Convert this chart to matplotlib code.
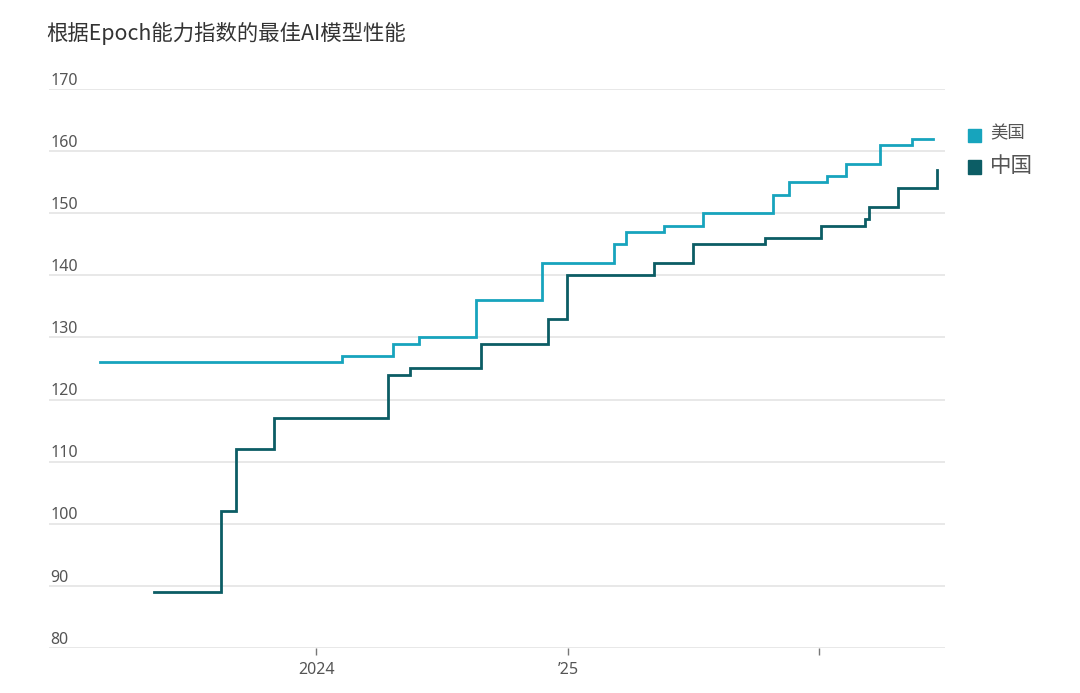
import matplotlib
matplotlib.use("Agg")
import matplotlib.pyplot as plt
import pandas as pd

# ---- data ----
us_dates = ["2023-02-20", "2024-02-07", "2024-04-21", "2024-05-29", "2024-08-20",
            "2024-11-24", "2025-03-09", "2025-03-26", "2025-05-20", "2025-07-16",
            "2025-10-26", "2025-11-18", "2026-01-12", "2026-02-09", "2026-03-30",
            "2026-05-16", "2026-06-16"]
us_values = [126, 127, 129, 130, 136, 142, 145, 147, 148, 150, 153, 155, 156, 158, 161, 162, 162]

cn_dates = ["2023-05-10", "2023-08-16", "2023-09-06", "2023-10-31", "2024-04-15",
            "2024-05-16", "2024-08-27", "2024-12-03", "2024-12-30", "2025-05-06",
            "2025-07-02", "2025-10-15", "2026-01-04", "2026-03-08", "2026-03-14",
            "2026-04-26", "2026-06-22"]
cn_values = [89, 102, 112, 117, 124, 125, 129, 133, 140, 142, 145, 146, 148, 149, 151, 154, 157]

y_ticks = [80, 90, 100, 110, 120, 130, 140, 150, 160, 170]
x_tick_dates = ["2024-01-01", "2025-01-01", "2026-01-01"]
x_tick_labels = ["2024", "’25", ""]
series_names = ["美国", "中国"]

title = "根据Epoch能力指数的最佳AI模型性能"

US_COLOR = "#17a4bd"
CN_COLOR = "#0c5d65"
NUM_FONT = ['Noto Sans', 'DejaVu Sans']

plt.rcParams['font.family'] = ['Noto Sans CJK SC', 'DejaVu Sans']

fig = plt.figure(figsize=(10.8, 6.93), dpi=100)
ax = fig.add_axes([0.045, 0.065, 0.83, 0.8066])

us_x = pd.to_datetime(us_dates)
cn_x = pd.to_datetime(cn_dates)

ax.plot(us_x, us_values, drawstyle="steps-post", color=US_COLOR, lw=2.0,
        solid_joinstyle="miter", zorder=3)
ax.plot(cn_x, cn_values, drawstyle="steps-post", color=CN_COLOR, lw=2.0,
        solid_joinstyle="miter", zorder=3)

ax.set_ylim(80, 170)
ax.set_xlim(pd.Timestamp("2022-12-08"), pd.Timestamp("2026-07-03"))

# gridlines
for v in y_ticks:
    ax.axhline(v, color="#e6e6e6", lw=1.3, zorder=1)

ax.set_yticks(y_ticks)
ax.set_yticklabels([])
ax.tick_params(axis="y", length=0)
for v in y_ticks:
    ax.text(0.002, v + 0.05, str(v), transform=ax.get_yaxis_transform(),
            ha="left", va="bottom", fontsize=11.5, color="#555555", family=NUM_FONT)

xt = pd.to_datetime(x_tick_dates)
ax.set_xticks(xt)
ax.set_xticklabels(x_tick_labels, fontsize=11.5, color="#555555", family=NUM_FONT)
ax.tick_params(axis="x", length=5, width=1, color="#777777", pad=5, direction="out")

for s in ax.spines.values():
    s.set_visible(False)

# title
fig.text(0.0425, 0.951, title, ha="left", va="center", fontsize=15.4, color="#333333")

# legend
leg_x = 0.896
fig.patches.append(plt.Rectangle((leg_x, 0.795), 0.0125, 0.0195, transform=fig.transFigure,
                                 color=US_COLOR, figure=fig))
fig.text(leg_x + 0.021, 0.807, series_names[0], ha="left", va="center", fontsize=12.5, color="#555555")
fig.patches.append(plt.Rectangle((leg_x, 0.749), 0.0125, 0.0195, transform=fig.transFigure,
                                 color=CN_COLOR, figure=fig))
fig.text(leg_x + 0.021, 0.760, series_names[1], ha="left", va="center", fontsize=15.5, color="#555555")

fig.savefig("out.png", dpi=100, facecolor="white")
